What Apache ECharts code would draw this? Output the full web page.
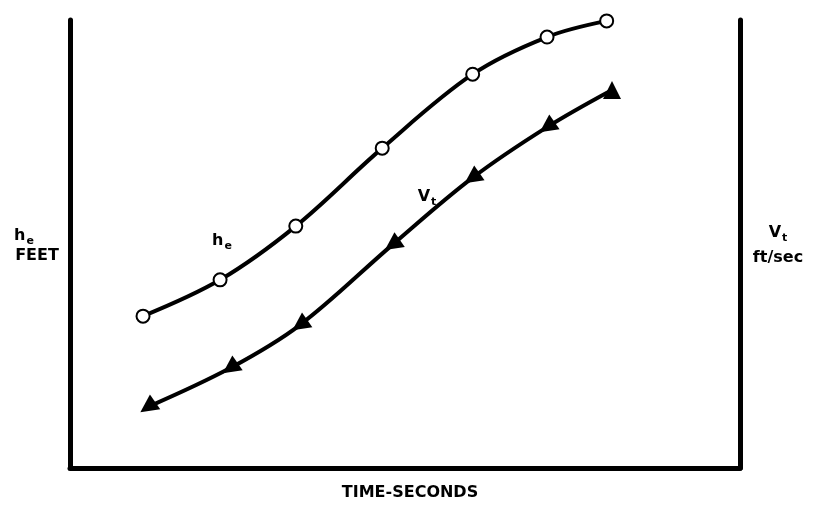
<!DOCTYPE html>
<html><head><meta charset="utf-8">
<script src="https://cdn.jsdelivr.net/npm/echarts@6/dist/echarts.min.js"></script>
<style>html,body{margin:0;padding:0;background:#fff}#c{width:815px;height:505px}</style>
</head><body><div id="c"></div>
<script>
const timeHe = [1.09, 2.24, 3.37, 4.66, 6.01, 7.12, 8.01];
const heValues = [3.39, 4.20, 5.40, 7.14, 8.79, 9.62, 9.98];
const timeVt = [1.16, 2.39, 3.43, 4.81, 6.00, 7.12, 8.09];
const vtValues = [1.36, 2.23, 3.19, 4.98, 6.47, 7.61, 8.44];
const vtArrowRotate = [125, 125, 125, 125, 125, 125, 0];

const chart = echarts.init(document.getElementById('c'));
const F = '"DejaVu Sans", sans-serif';
const rich = {
  b: {fontFamily: F, fontWeight: 'bold', fontSize: 16, fill: '#000', color: '#000'},
  s: {fontFamily: F, fontWeight: 'bold', fontSize: 11, fill: '#000', color: '#000', verticalAlign: 'bottom', padding: [10,0,0,1]}
};
function lbl(x, y, txt) {
  return {type: 'text', x: x, y: y, style: {text: txt, rich: rich, fontFamily: F, fontWeight: 'bold', fontSize: 16, fill: '#000', align: 'center', verticalAlign: 'middle'}};
}
const axisCommon = {type: 'value', min: 0, max: 10, axisTick: {show: false}, axisLabel: {show: false}, splitLine: {show: false}};
chart.setOption({
  animation: false,
  grid: {left: 70, right: 75, top: 20, bottom: 37},
  xAxis: Object.assign({axisLine: {show: true, lineStyle: {color: '#000', width: 5}}}, axisCommon),
  yAxis: [
    Object.assign({position: 'left', axisLine: {show: true, lineStyle: {color: '#000', width: 5}}}, axisCommon),
    Object.assign({position: 'right', axisLine: {show: true, lineStyle: {color: '#000', width: 5}}}, axisCommon)
  ],
  series: [
    {type: 'line', smooth: 0.35, data: timeHe.map((t, i) => [t, heValues[i]]),
     symbol: 'emptyCircle', symbolSize: 13,
     lineStyle: {color: '#000', width: 4},
     itemStyle: {color: '#000', borderColor: '#000', borderWidth: 3.5}},
    {type: 'line', smooth: 0.35, yAxisIndex: 1, data: timeVt.map((t, i) => ({value: [t, vtValues[i]], symbolRotate: vtArrowRotate[i]})),
     symbol: 'triangle', symbolSize: 18,
     lineStyle: {color: '#000', width: 4},
     itemStyle: {color: '#000'}}
  ],
  graphic: [
    lbl(24, 236, '{b|h}{s|e}'),
    lbl(37, 256, '{b|FEET}'),
    lbl(778, 233, '{b|V}{s|t}'),
    lbl(778, 258, '{b|ft/sec}'),
    lbl(410, 493, '{b|TIME-SECONDS}'),
    lbl(222, 241, '{b|h}{s|e}'),
    lbl(427, 197, '{b|V}{s|t}')
  ]
});
</script></body></html>
